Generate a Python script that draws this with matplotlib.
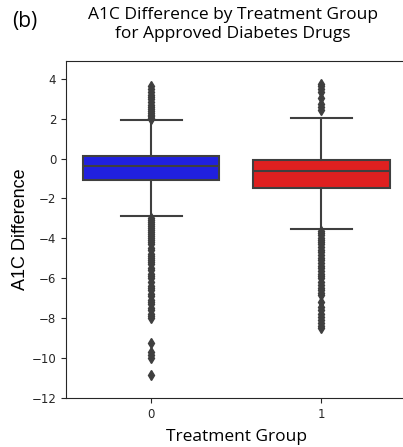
import numpy as np
import matplotlib.pyplot as plt

# treatment groups and box statistics
groups = ['0', '1']
q1 = [-1.1, -1.47]
med = [-0.37, -0.62]
q3 = [0.13, -0.08]
whislo = [-2.88, -3.53]
whishi = [1.95, 2.03]
fliers0 = [2.0, 2.05, 2.15, 2.2, 2.3, 2.4, 2.5, 2.6, 2.7, 2.85, 3.0, 3.1, 3.2, 3.35, 3.5, 3.65,
           -3.0, -3.1, -3.2, -3.3, -3.4, -3.5, -3.6, -3.7, -3.8, -3.9, -4.0, -4.1, -4.2, -4.3,
           -4.5, -4.6, -4.8, -4.9, -5.0, -5.1, -5.2, -5.3, -5.5, -5.6, -5.8, -5.9, -6.0, -6.2,
           -6.4, -6.5, -6.6, -6.8, -6.9, -7.1, -7.2, -7.3, -7.5, -7.6, -7.8, -7.9, -8.0,
           -9.25, -9.7, -9.85, -10.0, -10.85]
fliers1 = [2.45, 2.6, 2.75, 3.05, 3.35, 3.5, 3.65, 3.75,
           -3.65, -3.75, -3.85, -4.0, -4.1, -4.2, -4.3, -4.45, -4.6, -4.7, -4.85, -5.0, -5.1,
           -5.25, -5.4, -5.5, -5.65, -5.8, -5.9, -6.0, -6.2, -6.35, -6.5, -6.6, -6.75, -6.85,
           -7.2, -7.45, -7.6, -7.8, -7.95, -8.1, -8.25, -8.4, -8.5]
colors = ['#2020df', '#df2020']

stats = []
for i in range(len(groups)):
    stats.append({'q1': q1[i], 'med': med[i], 'q3': q3[i], 'whislo': whislo[i],
                  'whishi': whishi[i], 'fliers': [fliers0, fliers1][i], 'label': groups[i]})

fig = plt.figure(figsize=(4.03, 4.47), dpi=100)
ax = fig.add_axes([0.164, 0.11, 0.845, 0.754])

line = '#3f3f3f'
bp = ax.bxp(stats, positions=range(len(groups)), widths=0.8, capwidths=0.36,
            patch_artist=True,
            boxprops=dict(edgecolor=line, linewidth=1.5),
            medianprops=dict(color=line, linewidth=1.5),
            whiskerprops=dict(color=line, linewidth=1.5),
            capprops=dict(color=line, linewidth=1.5),
            flierprops=dict(marker='d', markerfacecolor=line, markeredgecolor=line,
                            markersize=5))
for patch, c in zip(bp['boxes'], colors):
    patch.set_facecolor(c)

ax.set_xlim(-0.5, 1.5)
ax.set_ylim(-12, 4.9)
ax.set_yticks(np.arange(-12, 5, 2))
ax.tick_params(labelsize=8.5, colors='#262626')
for s in ax.spines.values():
    s.set_color('#262626')

ax.set_xlabel('Treatment Group', fontsize=12.5, family='Open Sans', labelpad=6)
ax.set_ylabel('A1C Difference', fontsize=13, family='Liberation Sans', labelpad=2)
fig.text(0.578, 0.985, 'A1C Difference by Treatment Group\nfor Approved Diabetes Drugs',
         ha='center', va='top', fontsize=12.5, family='Open Sans', linespacing=1.3)
fig.text(0.03, 0.952, '(b)', ha='left', va='center', fontsize=15, family='Open Sans')

fig.savefig('out.png', dpi=100)
